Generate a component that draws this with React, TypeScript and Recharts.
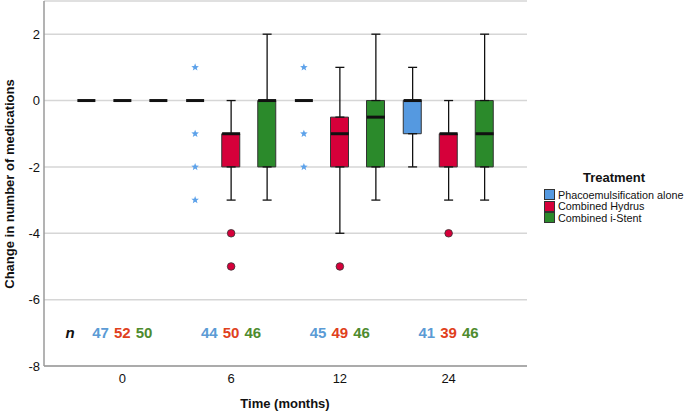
import React from 'react';
import { ComposedChart, Bar, Scatter, XAxis, YAxis, CartesianGrid, ErrorBar } from 'recharts';

const months = ['0', '6', '12', '24'];
const treatments = ['Phacoemulsification alone', 'Combined Hydrus', 'Combined i-Stent'];
const boxFill = ['#5599e0', '#d6003a', '#2b8a2b'];
const countColor = ['#5b9bd5', '#e0401c', '#4e8b2e'];
const yTicks = [-8, -6, -4, -2, 0, 2];

// box statistics per month (0, 6, 12, 24)
const phacoMin = [0, 0, 0, -2];
const phacoQ1 = [0, 0, 0, -1];
const phacoMed = [0, 0, 0, 0];
const phacoQ3 = [0, 0, 0, 0];
const phacoMax = [0, 0, 0, 1];
const phacoOut = [[], [1, -1, -2, -3], [1, -1, -2], []];
const phacoN = [47, 44, 45, 41];

const hydrusMin = [0, -3, -4, -3];
const hydrusQ1 = [0, -2, -2, -2];
const hydrusMed = [0, -1, -1, -1];
const hydrusQ3 = [0, -1, -0.5, -1];
const hydrusMax = [0, 0, 1, 0];
const hydrusOut = [[], [-4, -5], [-5], [-4]];
const hydrusN = [52, 50, 49, 39];

const istentMin = [0, -3, -3, -3];
const istentQ1 = [0, -2, -2, -2];
const istentMed = [0, 0, -0.5, -1];
const istentQ3 = [0, 0, 0, 0];
const istentMax = [0, 2, 2, 2];
const istentOut = [[], [], [], []];
const istentN = [50, 46, 46, 46];

const mins = [phacoMin, hydrusMin, istentMin];
const q1s = [phacoQ1, hydrusQ1, istentQ1];
const meds = [phacoMed, hydrusMed, istentMed];
const q3s = [phacoQ3, hydrusQ3, istentQ3];
const maxs = [phacoMax, hydrusMax, istentMax];
const outs = [phacoOut, hydrusOut, istentOut];
const counts = [phacoN, hydrusN, istentN];

const SLOT = 0.331;
const offsets = [-SLOT, 0, SLOT];

const boxRows = months.map((m, g) => ({
  month: m,
  t0: [q1s[0][g], q3s[0][g]],
  t1: [q1s[1][g], q3s[1][g]],
  t2: [q1s[2][g], q3s[2][g]],
}));

const whiskerPts: any[] = [];
const medianPts: any[] = [];
const starPts: any[] = [];
const dotPts: any[] = [];
const countPts: any[] = [];
treatments.forEach((_, t) => {
  months.forEach((__, g) => {
    const x = g + offsets[t];
    if (q1s[t][g] > mins[t][g]) whiskerPts.push({ x, y: q1s[t][g], err: [q1s[t][g] - mins[t][g], 0] });
    if (maxs[t][g] > q3s[t][g]) whiskerPts.push({ x, y: q3s[t][g], err: [0, maxs[t][g] - q3s[t][g]] });
    medianPts.push({ x, y: meds[t][g] });
    outs[t][g].forEach((v) => (t === 0 ? starPts : dotPts).push({ x, y: v }));
    countPts.push({ x: g + (t - 1) * 0.2, y: -7, text: String(counts[t][g]), color: countColor[t] });
  });
});
const nPts = [{ x: -0.48, y: -7, text: 'n', color: '#111' }];

const Empty = () => <g />;

const MedianLine = (p: any) => (
  <line x1={p.cx - 9} x2={p.cx + 9} y1={p.cy} y2={p.cy} stroke="#111" strokeWidth={3} />
);

const Star = (p: any) => {
  const pts: string[] = [];
  for (let i = 0; i < 10; i++) {
    const r = i % 2 === 0 ? 4 : 1.7;
    const a = -Math.PI / 2 + (i * Math.PI) / 5;
    pts.push(`${p.cx + r * Math.cos(a)},${p.cy + r * Math.sin(a)}`);
  }
  return <polygon points={pts.join(' ')} fill="#5da2ea" />;
};

const Dot = (p: any) => <circle cx={p.cx} cy={p.cy} r={3.8} fill="#d6003a" stroke="#333" strokeWidth={0.8} />;

const CountText = (p: any) => (
  <text
    x={p.cx}
    y={p.cy}
    textAnchor="middle"
    dominantBaseline="central"
    fill={p.payload.color}
    fontSize={15}
    fontWeight="bold"
    fontStyle={p.payload.text === 'n' ? 'italic' : 'normal'}
  >
    {p.payload.text}
  </text>
);

export default function App() {
  return (
    <div
      style={{
        position: 'absolute',
        left: 0,
        top: 0,
        width: 685,
        height: 412,
        background: '#fff',
        fontFamily: '"Liberation Sans", Arial, sans-serif',
      }}
    >
      <ComposedChart
        width={685}
        height={412}
        data={boxRows}
        margin={{ top: 1, right: 158, bottom: 16, left: 0 }}
        barSize={18}
        barGap={18}
      >
        <CartesianGrid vertical={false} stroke="#d6d6d6" strokeWidth={1.5} />
        <XAxis
          xAxisId="cat"
          dataKey="month"
          type="category"
          height={30}
          padding={{ left: 24, right: 24 }}
          tickLine={false}
          axisLine={{ stroke: '#9a9a9a', strokeWidth: 1.5 }}
          tick={{ fill: '#111', fontSize: 13 }}
          label={{
            content: () => (
              <text x={285} y={403} textAnchor="middle" dominantBaseline="central" fontSize={13} fontWeight="bold" fill="#111">
                Time (months)
              </text>
            ),
          }}
        />
        <XAxis
          xAxisId="num"
          dataKey="x"
          type="number"
          domain={[-0.5, 3.5]}
          padding={{ left: 24, right: 24 }}
          hide
        />
        <YAxis
          dataKey="y"
          width={44}
          domain={[-8, 3]}
          ticks={yTicks}
          tickLine={false}
          tickSize={3}
          tickMargin={1}
          axisLine={{ stroke: '#9a9a9a', strokeWidth: 1.5 }}
          tick={{ fill: '#111', fontSize: 13 }}
          label={{
            content: () => (
              <text
                x={9}
                y={184}
                transform="rotate(-90 9 184)"
                textAnchor="middle"
                dominantBaseline="central"
                fontSize={13}
                fontWeight="bold"
                fill="#111"
              >
                Change in number of medications
              </text>
            ),
          }}
        />
        <Scatter xAxisId="num" data={whiskerPts} shape={Empty} isAnimationActive={false}>
          <ErrorBar dataKey="err" direction="y" width={4.5} stroke="#111" strokeWidth={1.3} />
        </Scatter>
        {treatments.map((name, t) => (
          <Bar
            key={name}
            xAxisId="cat"
            dataKey={`t${t}`}
            fill={boxFill[t]}
            stroke="#333"
            strokeWidth={1}
            isAnimationActive={false}
          />
        ))}
        <Scatter xAxisId="num" data={medianPts} shape={MedianLine} isAnimationActive={false} />
        <Scatter xAxisId="num" data={starPts} shape={Star} isAnimationActive={false} />
        <Scatter xAxisId="num" data={dotPts} shape={Dot} isAnimationActive={false} />
        <Scatter xAxisId="num" data={countPts} shape={CountText} isAnimationActive={false} />
        <Scatter xAxisId="num" data={nPts} shape={CountText} isAnimationActive={false} />
      </ComposedChart>
      <div style={{ position: 'absolute', left: 544, top: 170, width: 140, color: '#111' }}>
        <div style={{ textAlign: 'center', fontWeight: 'bold', fontSize: 13, lineHeight: '15px', marginBottom: 4 }}>
          Treatment
        </div>
        {treatments.map((name, t) => (
          <div key={name} style={{ display: 'flex', alignItems: 'center', height: 11.5, fontSize: 10.8 }}>
            <span
              style={{
                display: 'inline-block',
                flexShrink: 0,
                width: 9,
                height: 9,
                background: boxFill[t],
                border: '1px solid #333',
                marginRight: 3,
              }}
            />
            <span style={{ whiteSpace: 'nowrap' }}>{name}</span>
          </div>
        ))}
      </div>
    </div>
  );
}
